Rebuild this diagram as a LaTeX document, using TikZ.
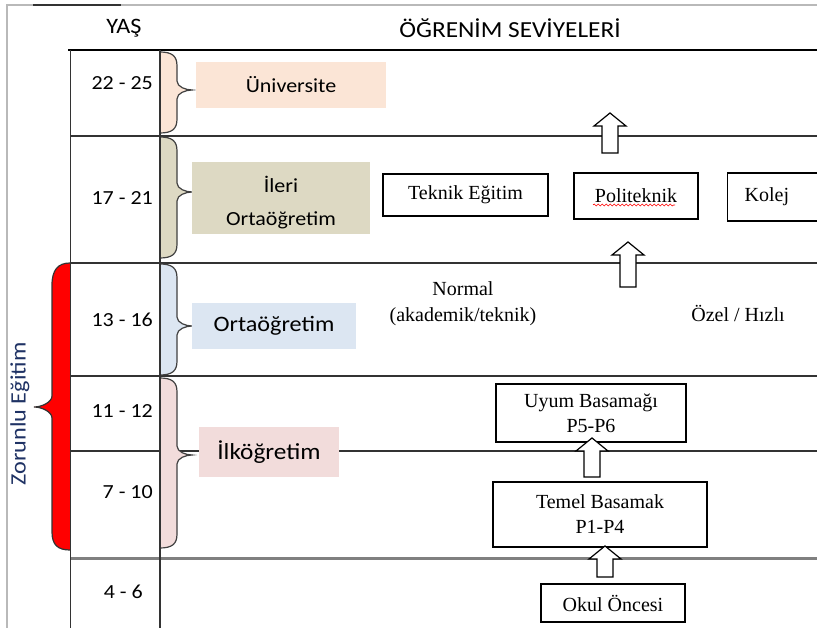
\documentclass[tikz,border=0pt]{standalone}
\usepackage{fontspec}
\setmainfont{Liberation Serif}
\newfontfamily\calfont[FakeStretch=1.1]{Carlito}
\usetikzlibrary{calc,decorations.pathmorphing}
\definecolor{unicol}{RGB}{251,229,214}
\definecolor{ilericol}{RGB}{221,217,195}
\definecolor{ortacol}{RGB}{220,230,242}
\definecolor{ilkcol}{RGB}{242,220,219}
\definecolor{zorcol}{RGB}{31,50,100}
\newcommand\tms{\fontsize{20}{25}\selectfont}
% right brace from x=160: top, tip, bottom, colour
\newcommand\kume[4]{%
 \filldraw[brc,fill=#4] (160,#1) .. controls (172,#1) and (177,#1+4) .. (177,#1+14)
  -- (177,#2-9) .. controls (177,#2-3) and (186,#2) .. (192,#2)
  .. controls (186,#2) and (177,#2+3) .. (177,#2+9)
  -- (177,#3-14) .. controls (177,#3-4) and (172,#3) .. (160,#3);}
% hollow up arrow between two named coordinates
\newcommand\yukari[2]{%
 \draw[blockarr] let \p1=(#1), \p2=(#2) in
  (\x1-8pt,\y1) -- (\x1-8pt,\y2-13pt) -- (\x1-16pt,\y2-13pt) -- (\x2,\y2)
  -- (\x1+16pt,\y2-13pt) -- (\x1+8pt,\y2-13pt) -- (\x1+8pt,\y1) -- cycle;}
\begin{document}
\begin{tikzpicture}[x=1pt,y=-1pt,
  rule/.style={line width=1.5pt,black!80},
  seviye/.style={font=\calfont\fontsize{20}{33}\selectfont,inner sep=0pt,align=center},
  kutu/.style={draw,line width=1.3pt,inner sep=0pt,align=center,font=\tms},
  blockarr/.style={draw,fill=white,line width=1.2pt},
  brc/.style={draw=black!75,line width=1.2pt}]
 \useasboundingbox (0,0) rectangle (817,628);
 \clip (0,0) rectangle (817,628);
 % frame and rows
 \draw[gray!55,line width=1.5pt] (7,628)--(7,5)--(817,5);
 \draw[black!80,line width=1.5pt] (33,5)--(121,5);
 \draw[line width=2pt] (68,50)--(817,50);
 \foreach \y in {136,263,376,451} \draw[rule] (70,\y)--(817,\y);
 \draw[gray,line width=3pt] (70,558)--(817,558);
 \node[font=\calfont\fontsize{22}{26}\selectfont] (yas) at (124,28) {YAŞ};
 \node[font=\calfont\fontsize{23}{26}\selectfont] (seviyeler) at (510,28) {ÖĞRENİM SEVİYELERİ};
 \foreach \a/\x/\y [count=\i] in {22 - 25/153/83,17 - 21/153/198,13 - 16/153/320,
   11 - 12/153/411,7 - 10/153/492,4 - 6/143/592}
  \node[anchor=east,inner sep=0pt,font=\calfont\fontsize{20}{24}\selectfont] (yas\i) at (\x,\y) {\a};
 % braces
 \kume{52}{90}{133}{unicol}
 \kume{137}{192}{258}{ilericol}
 \kume{264}{326}{375}{ortacol}
 \kume{378}{455}{548}{ilkcol}
 \filldraw[fill=red,draw=black!80,line width=1.2pt] (70,263) .. controls (58,263) and (52,270) .. (52,285)
  -- (52,396) .. controls (52,402) and (42,407) .. (34,407)
  .. controls (42,407) and (52,412) .. (52,418)
  -- (52,532) .. controls (52,545) and (58,550) .. (70,550);
 \node[rotate=90,font=\calfont\fontsize{22}{26}\selectfont,text=zorcol] (zorunlu) at (20,414) {Zorunlu Eğitim};
 \draw[rule] (70.5,50)--(70.5,628);
 \draw[rule] (160,50)--(160,628);
 % levels
 \node[seviye,fill=unicol,minimum width=190pt,minimum height=46pt] (univ) at (291,85) {Üniversite};
 \fill[ilericol] (192,162) rectangle (370,234);
 \node[seviye] (ileri) at (281,203) {İleri\\Ortaöğretim};
 \node[seviye,fill=ortacol,minimum width=164pt,minimum height=46pt,font=\calfont\fontsize{22}{26}\selectfont] (orta) at (274,326) {Ortaöğretim};
 \node[seviye,fill=ilkcol,minimum width=140pt,minimum height=50pt,font=\calfont\fontsize{23}{26}\selectfont] (ilk) at (269,452) {İlköğretim};
 % schools
 \node[kutu,minimum width=165pt,minimum height=42pt] (teknik) at (465.5,195) {Teknik Eğitim};
 \node[kutu,minimum width=124pt,minimum height=46pt] (poli) at (636,196) {Politeknik};
 \draw[red,line width=0.6pt,decorate,decoration={snake,amplitude=1pt,segment length=4pt}]
  ($(poli.center)+(-43,9)$) -- ($(poli.center)+(39,9)$);
 \node[kutu,anchor=west,minimum width=110pt,minimum height=48pt,inner xsep=17pt,text width=76pt,align=left] (kolej) at (727,197) {Kolej};
 \node[align=center,font=\fontsize{20}{26}\selectfont] (normal) at (463,304) {Normal\\(akademik/teknik)};
 \node[font=\tms] (ozel) at (738,313) {Özel / Hızlı};
 \node[kutu,minimum width=190pt,minimum height=58pt] (uyum) at (591,413) {Uyum Basamağı\\P5-P6};
 \node[kutu,minimum width=214pt,minimum height=65pt] (temel) at (600,514.5) {Temel Basamak\\P1-P4};
 \node[kutu,minimum width=144pt,minimum height=38pt] (okul) at (613,603) {Okul Öncesi};
 % arrows
 \coordinate (o1) at (610,153); \coordinate (o1u) at (610,113);
 \coordinate (o2) at (628,287); \coordinate (o2u) at (628,242);
 \coordinate (o3) at (592,477); \coordinate (o3u) at (592,438);
 \coordinate (o4) at (605,577); \coordinate (o4u) at (605,546);
 \yukari{o1}{o1u}
 \yukari{o2}{o2u}
 \yukari{o3}{o3u}
 \yukari{o4}{o4u}
\end{tikzpicture}
\end{document}
